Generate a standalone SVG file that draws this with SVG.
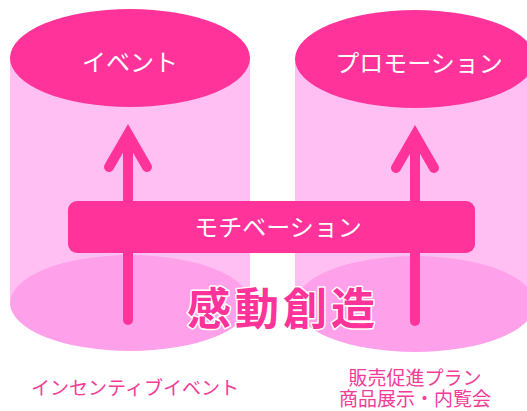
<svg xmlns="http://www.w3.org/2000/svg" width="527" height="411" viewBox="0 0 527 411">
<style>
.body{fill:#FFBFF2}
.base{fill:#FFA0EA}
.top{fill:#FF3399}
.lbl{font-family:"Noto Sans CJK JP","Noto Sans",sans-serif;fill:#fff;font-size:24px;text-anchor:middle}
.sub{font-family:"Noto Sans CJK JP","Noto Sans",sans-serif;fill:#F23D98;font-size:19px;text-anchor:middle}
.arrow{fill:none;stroke:#FF3399;stroke-width:10;stroke-linecap:round}
</style>
<rect width="527" height="411" fill="#fff"/>
<g id="cyl-event">
<rect class="body" x="10" y="58" width="240" height="245"/>
<ellipse class="base" cx="130" cy="303" rx="120" ry="48"/>
<ellipse class="top" cx="130" cy="58" rx="120" ry="49"/>
<text class="lbl" x="130" y="71">イベント</text>
</g>
<g id="cyl-promo">
<rect class="body" x="295" y="58" width="240" height="246"/>
<ellipse class="base" cx="415" cy="304" rx="120" ry="48"/>
<ellipse class="top" cx="415" cy="59" rx="120" ry="49"/>
<text class="lbl" x="419" y="72">プロモーション</text>
</g>
<g id="connectors">
<line class="arrow" x1="128" y1="320" x2="128" y2="138" stroke-linecap="butt"/>
<polyline class="arrow" points="109,167 128,134 147,167" stroke-linejoin="miter"/>
<line class="arrow" x1="415" y1="321" x2="415" y2="138" stroke-linecap="butt"/>
<polyline class="arrow" points="396,168 415,135 434,168" stroke-linejoin="miter"/>
</g>
<g id="motivation">
<rect x="68" y="201" width="407" height="52" rx="9" fill="#FF3399"/>
<text class="lbl" x="278" y="236">モチベーション</text>
</g>
<g id="kando">
<text x="283" y="325" font-family="'Noto Sans CJK JP',sans-serif" font-weight="bold" font-size="44" letter-spacing="4" text-anchor="middle" fill="#FF3399" stroke="#fff" stroke-width="3" paint-order="stroke" stroke-linejoin="round">感動創造</text>
</g>
<g id="label-incentive">
<text class="sub" x="135" y="395">インセンティブイベント</text>
</g>
<g id="label-sales">
<text class="sub" x="415" y="385">販売促進プラン</text>
<text class="sub" x="415" y="406">商品展示・内覧会</text>
</g>
</svg>
